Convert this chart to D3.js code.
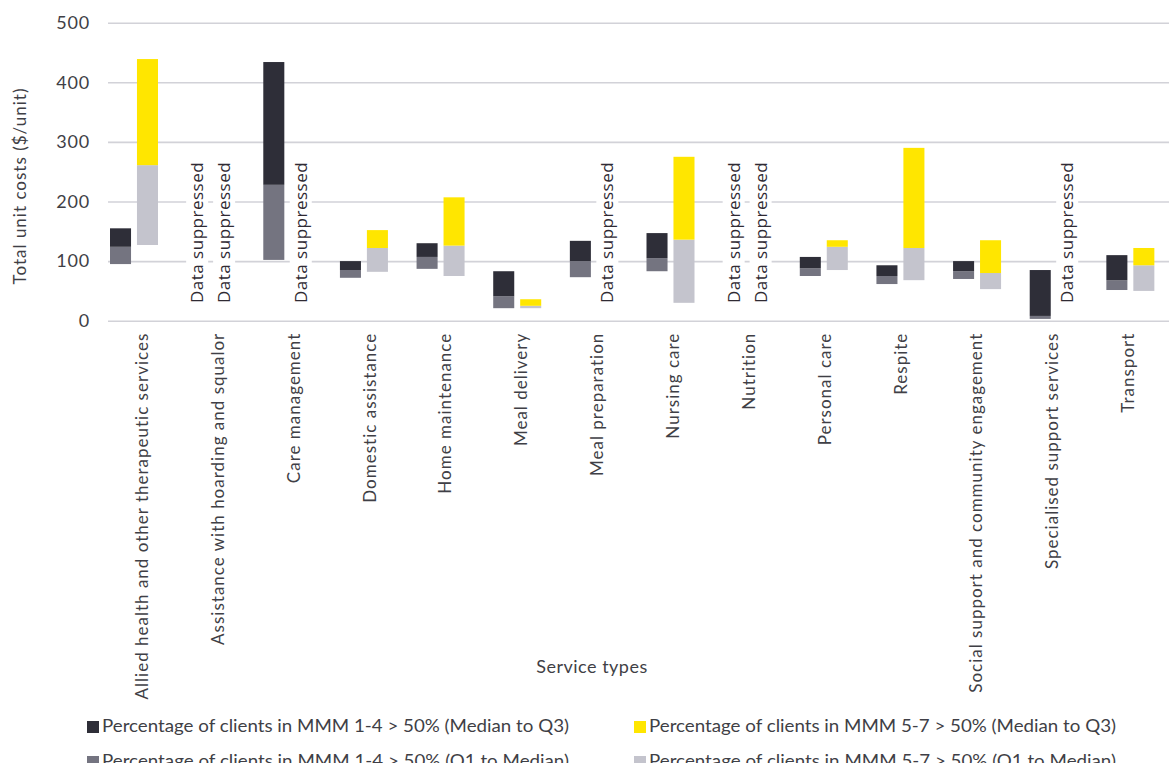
<!DOCTYPE html>
<html>
<head>
<meta charset="utf-8">
<script src="https://cdn.jsdelivr.net/npm/d3@7"></script>
<style>
  body { margin: 0; background: #fff; }
  text { font-family: Lato, "Open Sans", sans-serif; fill: #3f3f46; }
</style>
</head>
<body>
<div id="chart"></div>
<script>
var categories = [
  "Allied health and other therapeutic services",
  "Assistance with hoarding and squalor",
  "Care management",
  "Domestic assistance",
  "Home maintenance",
  "Meal delivery",
  "Meal preparation",
  "Nursing care",
  "Nutrition",
  "Personal care",
  "Respite",
  "Social support and community engagement",
  "Specialised support services",
  "Transport"
];

// MMM 1-4 > 50%
var q1Metro = [95, null, 102, 72, 87, 21, 73, 83, null, 75, 61.5, 70, 3, 51.5];
var medMetro = [124, null, 228, 85, 107, 41, 100, 105, null, 88, 75, 83, 8, 68];
var q3Metro = [155, null, 434, 100, 130, 83, 134, 147, null, 107, 93, 100, 85, 110];

// MMM 5-7 > 50%
var q1Rural = [127, null, null, 82, 75, 21, null, 30, null, 85, 68, 53, null, 50];
var medRural = [261, null, null, 122, 126, 25, null, 136, null, 124, 122, 80, null, 93];
var q3Rural = [439, null, null, 152, 207, 36, null, 275, null, 135, 290, 135, null, 122];

var yTicks = [0, 100, 200, 300, 400, 500];
var legendLabels = [
  "Percentage of clients in MMM 1-4 > 50% (Median to Q3)",
  "Percentage of clients in MMM 5-7 > 50% (Median to Q3)",
  "Percentage of clients in MMM 1-4 > 50% (Q1 to Median)",
  "Percentage of clients in MMM 5-7 > 50% (Q1 to Median)"
];
var suppressedText = "Data suppressed";
var suppressedAt = 148;

var colors = {
  metroTop: "#2e2e38",
  metroLow: "#747480",
  ruralTop: "#ffe600",
  ruralLow: "#c4c4cd"
};

var svgWidth = 1169;
var svgHeight = 763;

var svg = d3.select("#chart")
  .append("svg")
  .attr("width", svgWidth)
  .attr("height", svgHeight);

// scales
var y = d3.scaleLinear().domain([0, 500]).range([320.7, 22.7]);
var xAxisScale = d3.scaleBand().domain(categories).range([104, 1166]);
var xBars = d3.scaleBand().domain(categories).range([95, 1168]);
var xGroup = d3.scaleBand().domain(["metro", "rural"])
  .range([15, 63]).paddingInner(0.22);

// gridlines + y labels
var leftAxis = d3.axisLeft(y).tickValues(yTicks).tickSize(-(svgWidth - 108)).tickPadding(18);
var gy = svg.append("g")
  .attr("transform", "translate(108,0)")
  .call(leftAxis);
gy.select(".domain").remove();
gy.selectAll(".tick line").attr("stroke", "#d2d2d8").attr("stroke-width", 1.6);
gy.selectAll(".tick text")
  .attr("font-size", "18px")
  .attr("font-family", "Lato, sans-serif")
  .attr("letter-spacing", "0.8px")
  .style("fill", "#3f3f46");

// x axis labels
var bottomAxis = d3.axisBottom(xAxisScale).tickSize(0).tickPadding(0);
var gx = svg.append("g")
  .attr("transform", "translate(0,320.7)")
  .call(bottomAxis);
gx.select(".domain").remove();
gx.selectAll(".tick text")
  .attr("font-size", "17px")
  .attr("font-family", "Lato, sans-serif")
  .attr("letter-spacing", "1px")
  .attr("text-anchor", "end")
  .attr("dy", null)
  .attr("transform", "rotate(-90)")
  .attr("x", -12)
  .attr("y", 6)
  .style("fill", "#3f3f46");

// build floating stacked segments
var segments = [];
categories.forEach(function(c, i) {
  if (q3Metro[i] != null) {
    segments.push({cat: c, grp: "metro", lo: q1Metro[i], hi: medMetro[i], color: colors.metroLow});
    segments.push({cat: c, grp: "metro", lo: medMetro[i], hi: q3Metro[i], color: colors.metroTop});
  }
  if (q3Rural[i] != null) {
    segments.push({cat: c, grp: "rural", lo: q1Rural[i], hi: medRural[i], color: colors.ruralLow});
    segments.push({cat: c, grp: "rural", lo: medRural[i], hi: q3Rural[i], color: colors.ruralTop});
  }
});

svg.append("g").selectAll("rect")
  .data(segments)
  .enter()
  .append("rect")
  .attr("x", d => xBars(d.cat) + xGroup(d.grp))
  .attr("width", xGroup.bandwidth())
  .attr("y", d => y(d.hi))
  .attr("height", d => y(d.lo) - y(d.hi))
  .attr("fill", d => d.color);

// "Data suppressed" labels
var suppressed = [];
categories.forEach(function(c, i) {
  if (q3Metro[i] == null) suppressed.push({cat: c, grp: "metro"});
  if (q3Rural[i] == null) suppressed.push({cat: c, grp: "rural"});
});

var sg = svg.append("g").selectAll("g")
  .data(suppressed)
  .enter()
  .append("g")
  .attr("transform", d => `translate(${xBars(d.cat) + xGroup(d.grp) + xGroup.bandwidth() / 2}, ${y(suppressedAt)}) rotate(-90)`);
sg.append("rect")
  .attr("x", -74)
  .attr("y", -11)
  .attr("width", 148)
  .attr("height", 22)
  .attr("fill", "#fff");
sg.append("text")
  .attr("text-anchor", "middle")
  .attr("dy", "0.35em")
  .attr("font-size", "17px")
  .attr("letter-spacing", "0.5px")
  .style("font-family", "'Open Sans', sans-serif")
  .style("fill", "#2f2a33")
  .text(suppressedText);

// axis titles
svg.append("text")
  .attr("transform", "translate(26,186) rotate(-90)")
  .attr("text-anchor", "middle")
  .attr("font-size", "17px")
  .attr("letter-spacing", "1px")
  .text("Total unit costs ($/unit)");
svg.append("text")
  .attr("x", 592)
  .attr("y", 673)
  .attr("text-anchor", "middle")
  .attr("font-size", "18px")
  .attr("letter-spacing", "0.5px")
  .text("Service types");

// legend
var legendColors = [colors.metroTop, colors.ruralTop, colors.metroLow, colors.ruralLow];
var legend = svg.append("g").selectAll("g")
  .data(legendLabels)
  .enter()
  .append("g")
  .attr("transform", (d, i) => `translate(${i % 2 === 0 ? 87 : 634}, ${i < 2 ? 732 : 767})`);
legend.append("rect")
  .attr("x", 0)
  .attr("y", -11)
  .attr("width", 12)
  .attr("height", 12)
  .attr("fill", (d, i) => legendColors[i]);
legend.append("text")
  .attr("x", 15)
  .attr("font-size", "18px")
  .attr("font-family", "Lato, sans-serif")
  .attr("textLength", 467)
  .attr("lengthAdjust", "spacingAndGlyphs")
  .text(d => d);
</script>
</body>
</html>
